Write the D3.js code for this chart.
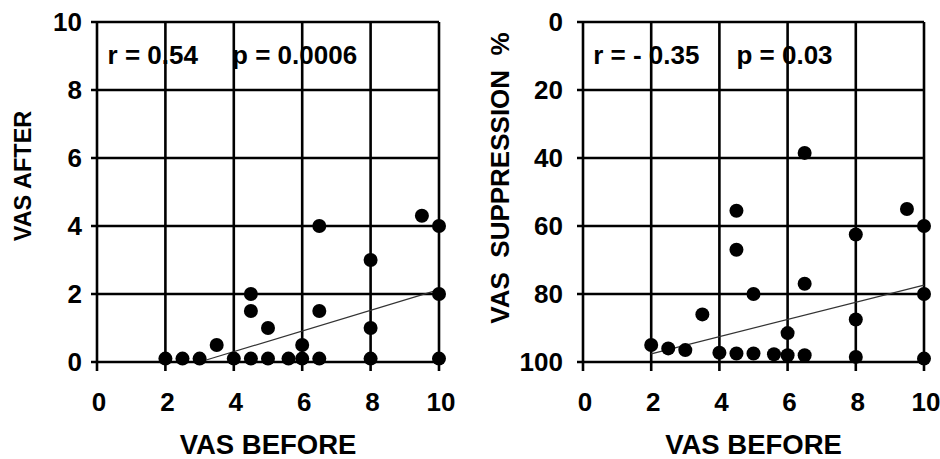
<!DOCTYPE html>
<html><head><meta charset="utf-8">
<script src="https://cdn.jsdelivr.net/npm/d3@7"></script>
<style>
body{margin:0;background:#fff;}
svg text{font-family:"Liberation Sans",Arial,sans-serif;font-weight:bold;fill:#000;}
</style></head>
<body><svg id="c" width="940" height="459"></svg>
<script>
// ---- data ----
const xTicks = [0, 2, 4, 6, 8, 10];
const leftYTicks = [0, 2, 4, 6, 8, 10];
const rightYTicks = [0, 20, 40, 60, 80, 100];

const leftX = [2, 2.5, 3, 3.5, 4, 4.5, 4.5, 4.5, 5, 5, 5.6, 6, 6, 6.5, 6.5, 6.5, 8, 8, 8, 9.5, 10, 10, 10];
const leftY = [0.1, 0.1, 0.1, 0.5, 0.1, 0.1, 1.5, 2, 0.1, 1, 0.1, 0.1, 0.5, 0.1, 1.5, 4, 0.1, 1, 3, 4.3, 4, 2, 0.1];

const rightX = [2, 2.5, 3, 3.5, 4, 4.5, 4.5, 4.5, 5, 5, 5.6, 6, 6, 6.5, 6.5, 6.5, 8, 8, 8, 9.5, 10, 10, 10];
const rightY = [95, 96, 96.5, 86, 97.3, 97.5, 67, 55.5, 97.5, 80, 97.7, 98, 91.5, 98, 77, 38.5, 98.5, 87.5, 62.5, 55, 60, 80, 99];

const leftFitX = [3, 10];
const leftFitY = [0, 2.13];
const rightFitX = [2, 10];
const rightFitY = [97.6, 77.4];

const leftStats = ["r = 0.54", "p = 0.0006"];
const rightStats = ["r = - 0.35", "p = 0.03"];
const xTitle = "VAS BEFORE";
const leftYTitle = "VAS AFTER";
const rightYTitle = "VAS  SUPPRESSION  %";

// ---- drawing ----
const svg = d3.select("#c");

function panel(cfg) {
  const x = d3.scaleLinear().domain([0, 10]).range([cfg.x0, cfg.x1]);
  const y = d3.scaleLinear().domain(cfg.yDomain).range([cfg.yb, cfg.yt]);
  const g = svg.append("g");

  g.selectAll(".vg").data(xTicks).enter().append("line")
    .attr("x1", d => x(d)).attr("x2", d => x(d))
    .attr("y1", cfg.yt).attr("y2", cfg.yb + 9)
    .attr("stroke", "#000").attr("stroke-width", 2.6);
  g.selectAll(".hg").data(cfg.yTicks).enter().append("line")
    .attr("y1", d => y(d)).attr("y2", d => y(d))
    .attr("x1", cfg.x0 - 6).attr("x2", cfg.x1)
    .attr("stroke", "#000").attr("stroke-width", 2.6);

  g.selectAll(".xl").data(xTicks).enter().append("text")
    .attr("x", d => x(d) + 2).attr("y", 411)
    .attr("text-anchor", "middle").attr("font-size", 26).text(d => d);
  g.selectAll(".yl").data(cfg.yTicks).enter().append("text")
    .attr("x", cfg.labelX).attr("y", d => y(d) + 9)
    .attr("text-anchor", "end").attr("font-size", 26).text(d => d);

  const fit = cfg.fitX.map((v, i) => [v, cfg.fitY[i]]);
  g.append("path").datum(fit)
    .attr("d", d3.line().x(d => x(d[0])).y(d => y(d[1])))
    .attr("stroke", "#333").attr("stroke-width", 1.2).attr("fill", "none");

  g.selectAll(".pt").data(cfg.px).enter().append("circle")
    .attr("cx", d => x(d)).attr("cy", (d, i) => y(cfg.py[i]))
    .attr("r", 7).attr("fill", "#000");

  g.append("text").attr("x", x(cfg.statX[0])).attr("y", 64)
    .attr("font-size", 26).text(cfg.stats[0]);
  g.append("text").attr("x", x(cfg.statX[1])).attr("y", 64)
    .attr("font-size", 26).text(cfg.stats[1]);

  g.append("text").attr("x", (cfg.x0 + cfg.x1) / 2).attr("y", 454)
    .attr("text-anchor", "middle").attr("font-size", 27.5).text(xTitle);
  g.append("text")
    .attr("transform", `translate(${cfg.titleX},${cfg.titleY}) rotate(-90)`)
    .attr("text-anchor", "middle").attr("font-size", cfg.titleSize)
    .style("white-space", "pre").text(cfg.title);
}

panel({
  x0: 97, x1: 439, yt: 22, yb: 362, yDomain: [0, 10], yTicks: leftYTicks,
  labelX: 82, px: leftX, py: leftY, fitX: leftFitX, fitY: leftFitY,
  stats: leftStats, statX: [0.31, 3.95], title: leftYTitle,
  titleX: 31, titleY: 176, titleSize: 23.5
});
panel({
  x0: 583, x1: 924, yt: 22, yb: 362, yDomain: [100, 0], yTicks: rightYTicks,
  labelX: 563, px: rightX, py: rightY, fitX: rightFitX, fitY: rightFitY,
  stats: rightStats, statX: [0.3, 4.5], title: rightYTitle,
  titleX: 509, titleY: 178, titleSize: 26
});
</script></body></html>
